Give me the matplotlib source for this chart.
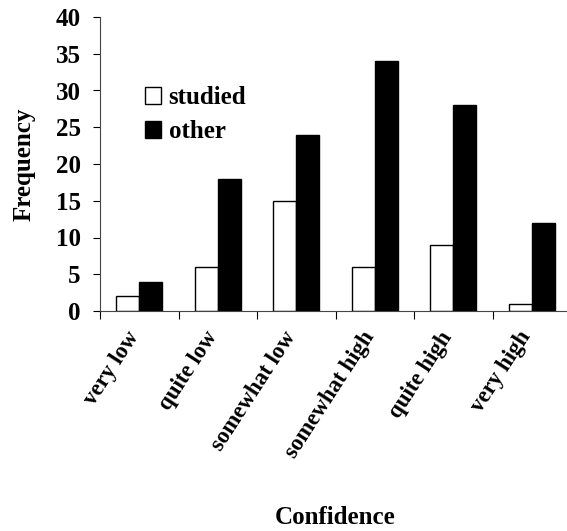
import matplotlib
matplotlib.use("Agg")
import matplotlib.pyplot as plt
import matplotlib.transforms as mtransforms
import numpy as np

categories = ["very low", "quite low", "somewhat low", "somewhat high", "quite high", "very high"]
studied = [2, 6, 15, 6, 9, 1]
other = [4, 18, 24, 34, 28, 12]
yticks = [0, 5, 10, 15, 20, 25, 30, 35, 40]

plt.rcParams['font.family'] = ['Liberation Serif', 'DejaVu Serif']
plt.rcParams['font.weight'] = 'bold'

fig = plt.figure(figsize=(5.67, 5.31), dpi=100)
W, H = 567, 531
left, right, top, bottom = 100, 571, 17, 311
ax = fig.add_axes([left / W, 1 - bottom / H, (right - left) / W, (bottom - top) / H])

x = np.arange(len(categories))
w = 0.295
ax.bar(x - w / 2, studied, w, color='white', edgecolor='black', linewidth=1.0, label='studied')
ax.bar(x + w / 2, other, w, color='black', edgecolor='black', linewidth=1.0, label='other')

ax.set_xlim(-0.5, len(categories) - 0.5)
ax.set_ylim(0, 40)
ax.set_yticks(yticks)
ax.set_yticklabels([str(v) for v in yticks], fontsize=18, fontweight='bold')
ax.set_xticks(x)
ax.set_xticklabels(categories, rotation=57, ha='right', va='center', rotation_mode='anchor',
                   fontsize=16.5, fontweight='bold')
ax.tick_params(axis='x', which='major', length=0, pad=16)
offset = mtransforms.ScaledTranslation(-5 / 100, 0, fig.dpi_scale_trans)
for lbl in ax.get_xticklabels():
    lbl.set_transform(lbl.get_transform() + offset)
ax.set_xticks(np.arange(-0.5, len(categories), 1.0), minor=True)
ax.tick_params(axis='x', which='minor', length=6, width=0.8, direction='out')
ax.tick_params(axis='y', length=5, width=0.8, direction='out', pad=9)

for s in ['top', 'right']:
    ax.spines[s].set_visible(False)
for s in ['left', 'bottom']:
    ax.spines[s].set_linewidth(0.8)
    ax.spines[s].set_color('#444444')

ax.set_ylabel("Frequency", fontsize=18, fontweight='bold')
ax.yaxis.set_label_coords(-(100 - 36) / 471, 0.5)
fig.text(335 / W, 1 - 517 / H, "Confidence", ha='center', va='center', fontsize=18, fontweight='bold')

leg = ax.legend(loc='upper left', bbox_to_anchor=(0.0955, 0.765), frameon=False, fontsize=18,
                handlelength=0.65, handleheight=0.65, handletextpad=0.3, labelspacing=0.45,
                borderpad=0, borderaxespad=0)
for t in leg.get_texts():
    t.set_fontweight('bold')

fig.savefig("out.png", dpi=100)
